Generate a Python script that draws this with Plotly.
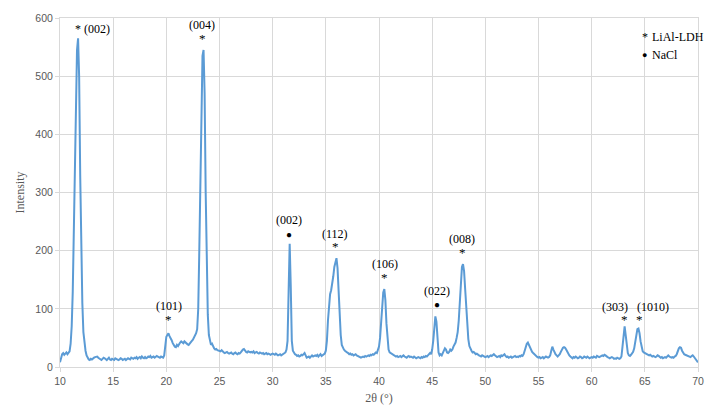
import plotly.graph_objects as go

# 2θ grid (0.1° steps, 10.0 .. 70.0)
two_theta = [round(10 + 0.1 * i, 1) for i in range(601)]

# Intensity, one row per degree (x.0 .. x.9)
intensity = [
    8, 16, 22, 24, 21, 23, 25, 22, 24, 27,            # 10
    40, 70, 130, 230, 360, 470, 545, 565, 500, 330,   # 11
    190, 110, 60, 38, 28, 20, 15, 13, 12, 14,         # 12
    13, 15, 16, 17, 17, 18, 16, 15, 13, 12,           # 13
    14, 16, 15, 13, 12, 14, 16, 13, 12, 14,           # 14
    13, 12, 15, 14, 13, 12, 13, 15, 14, 12,           # 15
    13, 14, 12, 13, 15, 14, 13, 16, 15, 14,           # 16
    16, 15, 17, 14, 16, 17, 15, 18, 16, 15,           # 17
    17, 15, 16, 18, 17, 19, 16, 17, 18, 16,           # 18
    17, 19, 18, 17, 16, 18, 17, 16, 20, 40,           # 19
    52, 55, 58, 53, 50, 46, 41, 37, 35, 34,           # 20
    38, 36, 40, 42, 44, 43, 41, 44, 42, 40,           # 21
    39, 38, 41, 43, 45, 47, 50, 55, 58, 65,           # 22
    100, 200, 330, 460, 535, 545, 470, 300, 160, 90,  # 23
    55, 42, 38, 40, 35, 32, 30, 31, 29, 28,           # 24
    28, 27, 29, 26, 25, 24, 25, 26, 24, 23,           # 25
    24, 25, 23, 22, 24, 25, 23, 22, 24, 23,           # 26
    25, 28, 30, 31, 28, 26, 25, 27, 26, 25,           # 27
    26, 25, 27, 24, 25, 26, 24, 23, 25, 24,           # 28
    23, 24, 22, 23, 24, 22, 23, 22, 21, 22,           # 29
    23, 22, 21, 23, 22, 20, 21, 22, 20, 21,           # 30
    22, 23, 25, 30, 45, 130, 212, 140, 45, 28,        # 31
    24, 22, 21, 19, 20, 18, 19, 21, 20, 22,           # 32
    24, 20, 16, 17, 18, 16, 19, 20, 18, 19,           # 33
    20, 19, 21, 18, 20, 22, 19, 20, 21, 23,           # 34
    28, 45, 80, 110, 125, 132, 142, 156, 172, 183,    # 35
    187, 170, 130, 85, 55, 38, 32, 30, 28, 26,        # 36
    25, 24, 22, 23, 21, 22, 20, 21, 22, 20,           # 37
    19, 18, 17, 16, 17, 18, 17, 19, 18, 19,           # 38
    20, 19, 21, 20, 22, 21, 23, 25, 24, 28,           # 39
    35, 50, 75, 105, 128, 134, 115, 75, 45, 30,       # 40
    25, 24, 22, 21, 20, 19, 18, 19, 17, 18,           # 41
    19, 17, 18, 20, 18, 17, 16, 18, 19, 17,           # 42
    18, 17, 16, 18, 17, 15, 16, 17, 16, 15,           # 43
    17, 16, 18, 17, 19, 18, 20, 22, 24, 22,           # 44
    30, 45, 70, 87, 78, 40, 25, 20, 22, 20,           # 45
    23, 28, 32, 30, 25, 24, 26, 30, 28, 30,           # 46
    35, 38, 42, 50, 60, 80, 110, 150, 172, 177,       # 47
    165, 135, 100, 70, 48, 36, 30, 28, 25, 26,        # 48
    24, 22, 23, 21, 20, 19, 18, 20, 19, 18,           # 49
    17, 18, 19, 17, 18, 20, 19, 21, 22, 20,           # 50
    18, 17, 18, 19, 17, 20, 19, 21, 22, 19,           # 51
    17, 18, 16, 17, 18, 16, 17, 18, 19, 17,           # 52
    18, 17, 19, 18, 20, 19, 22, 28, 35, 40,           # 53
    42, 38, 32, 28, 26, 24, 22, 20, 18, 17,           # 54
    16, 17, 15, 16, 17, 15, 16, 18, 17, 16,           # 55
    17, 20, 28, 35, 30, 24, 22, 20, 18, 20,           # 56
    22, 26, 30, 33, 34, 33, 30, 26, 22, 20,           # 57
    18, 16, 15, 17, 16, 18, 17, 15, 16, 18,           # 58
    17, 15, 16, 18, 17, 16, 18, 17, 15, 16,           # 59
    17, 16, 18, 17, 16, 19, 18, 17, 18, 19,           # 60
    20, 19, 21, 20, 18, 17, 16, 15, 16, 17,           # 61
    16, 14, 15, 14, 16, 15, 14, 15, 18, 35,           # 62
    62, 70, 55, 35, 24, 20, 19, 21, 24, 26,           # 63
    32, 45, 58, 65, 66, 58, 44, 33, 27, 25,           # 64
    24, 23, 22, 21, 20, 21, 19, 18, 19, 18,           # 65
    17, 18, 20, 19, 17, 16, 17, 15, 16, 17,           # 66
    16, 18, 20, 18, 17, 16, 17, 16, 18, 19,           # 67
    22, 28, 32, 34, 33, 28, 24, 22, 21, 20,           # 68
    20, 19, 18, 17, 19, 20, 18, 15, 13, 11,           # 69
    8,                                                # 70
]

# Peak labels: (text, x, y)
label_text = ["* (002)", "(004)", "(101)", "(002)", "(112)", "(106)", "(022)", "(008)", "(303)", "(1010)"]
label_x = [13.1, 23.37, 20.24, 31.49, 35.9, 40.58, 45.46, 47.84, 62.16, 65.73]
label_y = [581, 588, 105.5, 252, 228, 177, 131, 220, 102.6, 102.6]

# Phase markers: (symbol, x, y)
marker_sym = ["*", "*", "*", "*", "*", "*", "*", "●", "●"]
marker_x = [23.4, 20.24, 35.92, 40.55, 47.85, 63.07, 64.48, 31.52, 45.48]
marker_y = [565, 82, 207, 154, 197, 81, 81, 227.6, 107]

legend_sym = ["*", "●"]
legend_text = ["LiAl-LDH", "NaCl"]

serif = "Liberation Serif, Times New Roman, serif"
sans = "Liberation Sans, Arial, sans-serif"

fig = go.Figure()
fig.add_trace(go.Scatter(
    x=two_theta, y=intensity, mode="lines",
    line=dict(color="#5B9BD5", width=2), showlegend=False, hoverinfo="skip",
))

for t, x, y in zip(label_text, label_x, label_y):
    fig.add_annotation(x=x, y=y, text=t, showarrow=False, xref="x", yref="y",
                       font=dict(family=serif, size=12, color="#000000"))
for s, x, y in zip(marker_sym, marker_x, marker_y):
    fig.add_annotation(x=x, y=y, text=s, showarrow=False, xref="x", yref="y",
                       font=dict(family=serif, size=13 if s == "*" else 10, color="#000000"))

# in-plot legend
for i, (s, t) in enumerate(zip(legend_sym, legend_text)):
    ly = 567 - i * 31
    fig.add_annotation(x=65.0, y=ly, text=s, showarrow=False, xref="x", yref="y",
                       xanchor="center", font=dict(family=serif, size=12 if s == "*" else 9, color="#000000"))
    fig.add_annotation(x=65.45, y=ly, text=t, showarrow=False, xref="x", yref="y",
                       xanchor="left", font=dict(family=serif, size=12, color="#000000"))

grid = "#D9D9D9"
fig.update_layout(
    width=716, height=417,
    margin=dict(l=60, r=18, t=12, b=50),
    paper_bgcolor="#FFFFFF", plot_bgcolor="#FFFFFF",
    xaxis=dict(
        range=[10, 70], tickmode="linear", tick0=10, dtick=5,
        showgrid=True, gridcolor=grid, gridwidth=1,
        showline=True, linecolor=grid, linewidth=1, mirror=True,
        ticks="outside", ticklen=4, tickcolor=grid,
        zeroline=False,
        tickfont=dict(family=sans, size=10.5, color="#595959"),
        title=dict(text="2θ (°)", font=dict(family=serif, size=12, color="#595959"), standoff=8),
    ),
    yaxis=dict(
        range=[0, 600], tickmode="linear", tick0=0, dtick=100,
        showgrid=True, gridcolor=grid, gridwidth=1,
        showline=True, linecolor=grid, linewidth=1, mirror=True,
        ticks="outside", ticklen=4, tickcolor=grid,
        zeroline=False,
        tickfont=dict(family=sans, size=10.5, color="#595959"),
        title=dict(text="Intensity", font=dict(family=serif, size=12, color="#595959"), standoff=8),
    ),
)

fig.write_html("out.html")
